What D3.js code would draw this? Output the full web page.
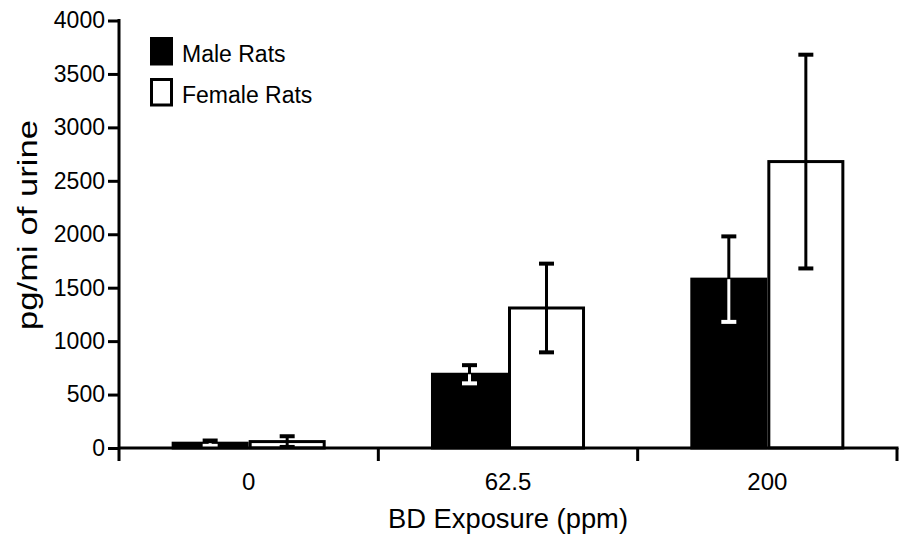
<!DOCTYPE html>
<html>
<head>
<meta charset="utf-8">
<script src="https://cdn.jsdelivr.net/npm/d3@7"></script>
<style>
  body { margin: 0; background: #fff; }
  text { font-family: "Liberation Sans", Arial, Helvetica, sans-serif; fill: #000; }
</style>
</head>
<body>
<svg id="chart" width="903" height="536"></svg>
<script>
// Urinary biomarker by exposure group (mean ± error)
const doses = ["0", "62.5", "200"];
const seriesNames = ["Male Rats", "Female Rats"];
const maleMean = [45, 690, 1580];
const maleErr = [25, 85, 400];
const femaleMean = [60, 1310, 2680];
const femaleErr = [50, 415, 1000];
const yTicks = [0, 500, 1000, 1500, 2000, 2500, 3000, 3500, 4000];

const svg = d3.select("#chart");
const plotL = 119, plotR = 897, plotT = 20.5, plotB = 448;

const x = d3.scaleBand().domain(doses).range([plotL, plotR]).paddingInner(0.406).paddingOuter(0.203);
const sub = d3.scaleBand().domain(seriesNames).range([0, x.bandwidth()]);
const y = d3.scaleLinear().domain([0, 4000]).range([plotB, plotT]);

const rows = doses.map((d, i) => [
  { dose: d, s: seriesNames[0], v: maleMean[i], e: maleErr[i] },
  { dose: d, s: seriesNames[1], v: femaleMean[i], e: femaleErr[i] }
]).flat();

// bars
svg.append("g").selectAll("rect").data(rows).join("rect")
  .attr("x", d => x(d.dose) + sub(d.s) + 1.5)
  .attr("y", d => y(d.v))
  .attr("width", sub.bandwidth() - 3)
  .attr("height", d => y(0) - y(d.v))
  .attr("fill", d => d.s === seriesNames[0] ? "#000" : "#fff")
  .attr("stroke", "#000")
  .attr("stroke-width", 3);

// error bars: the part inside a black bar is drawn in white
const capW = 15;
const eb = svg.append("g").attr("stroke-width", 3).attr("fill", "none");
rows.forEach(d => {
  const cx = x(d.dose) + sub(d.s) + sub.bandwidth() / 2;
  const yHi = y(d.v + d.e), yLo = y(Math.max(0, d.v - d.e)), yMid = y(d.v);
  const male = d.s === seriesNames[0];
  const lowColor = male ? "#fff" : "#000";
  eb.append("line").attr("x1", cx).attr("x2", cx).attr("y1", yHi).attr("y2", yMid).attr("stroke", "#000");
  eb.append("line").attr("x1", cx - capW / 2).attr("x2", cx + capW / 2).attr("y1", yHi).attr("y2", yHi).attr("stroke", "#000").attr("stroke-width", 4);
  eb.append("line").attr("x1", cx).attr("x2", cx).attr("y1", yMid).attr("y2", yLo).attr("stroke", lowColor);
  eb.append("line").attr("x1", cx - capW / 2).attr("x2", cx + capW / 2).attr("y1", yLo).attr("y2", yLo).attr("stroke", lowColor).attr("stroke-width", 4);
});

// y axis
const yAxis = svg.append("g").attr("transform", `translate(${plotL},0)`)
  .call(d3.axisLeft(y).tickValues(yTicks).tickSize(11).tickPadding(3).tickFormat(d3.format("d")));
yAxis.select(".domain").attr("d", `M0,${plotT - 1.5}V${plotB + 13}`).attr("stroke-width", 3);
yAxis.selectAll(".tick line").attr("stroke-width", 3);
yAxis.selectAll(".tick text").attr("font-size", 23).attr("fill", "#000");

// x axis: ticks mark the group boundaries
const xAxis = svg.append("g").attr("transform", `translate(0,${plotB})`);
xAxis.append("line").attr("x1", plotL).attr("x2", plotR + 1.5).attr("y1", 0).attr("y2", 0).attr("stroke", "#000").attr("stroke-width", 3);
const bounds = doses.map(d => x(d) - (x.step() - x.bandwidth()) / 2).concat([plotR]);
xAxis.selectAll("line.b").data(bounds.slice(1)).join("line").attr("class", "b")
  .attr("x1", d => d).attr("x2", d => d).attr("y1", 0).attr("y2", 13)
  .attr("stroke", "#000").attr("stroke-width", 3);
xAxis.selectAll("text").data(doses).join("text")
  .attr("x", d => x(d) + x.bandwidth() / 2).attr("y", 42)
  .attr("text-anchor", "middle").attr("font-size", 24).text(d => d);

// axis titles
svg.append("text").attr("x", (plotL + plotR) / 2).attr("y", 528).attr("text-anchor", "middle")
  .attr("font-size", 28).attr("textLength", 240).attr("lengthAdjust", "spacingAndGlyphs")
  .text("BD Exposure (ppm)");
svg.append("text").attr("transform", `translate(37,225) rotate(-90)`)
  .attr("text-anchor", "middle").attr("font-size", 27)
  .attr("textLength", 210).attr("lengthAdjust", "spacingAndGlyphs")
  .text("pg/mi of urine");

// legend
const lg = svg.append("g").attr("transform", "translate(150,37)");
seriesNames.forEach((s, i) => {
  lg.append("rect").attr("x", 1.5).attr("y", i * 41 + 1.5).attr("width", 20).attr("height", 25.5)
    .attr("fill", i === 0 ? "#000" : "#fff").attr("stroke", "#000").attr("stroke-width", 3);
  lg.append("text").attr("x", 32).attr("y", i * 41 + 25).attr("font-size", 23).text(s);
});
</script>
</body>
</html>
